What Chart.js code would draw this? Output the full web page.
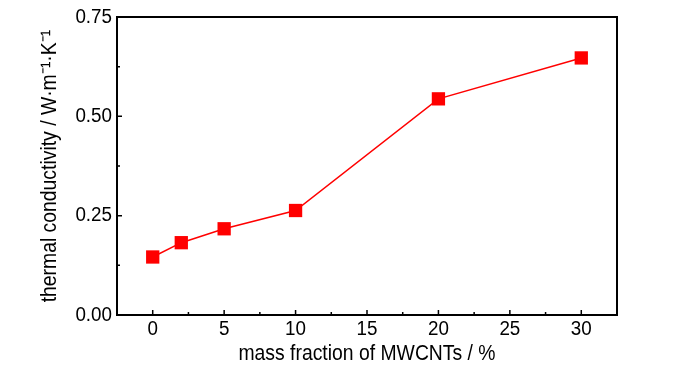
<!DOCTYPE html>
<html>
<head>
<meta charset="utf-8">
<script src="https://cdn.jsdelivr.net/npm/chart.js@4"></script>
<style>
  html, body { margin: 0; padding: 0; background: #fff; }
</style>
</head>
<body>
<canvas id="chart" width="700" height="374"></canvas>
<script>
// data
const massFraction = [0, 2, 5, 10, 20, 30];
const conductivity = [0.146, 0.182, 0.217, 0.263, 0.544, 0.647];
const xMajorTicks = [0, 5, 10, 15, 20, 25, 30];
const xMinorTicks = [2.5, 7.5, 12.5, 17.5, 22.5, 27.5];
const yMajorTicks = [0, 0.25, 0.5, 0.75];
const yMinorTicks = [0.125, 0.375, 0.625];

const FONT = "'Liberation Sans', Arial, sans-serif";
const TICK_SIZE = 20;
const TITLE_SIZE = 22;

const canvas = document.getElementById("chart");
const context = canvas.getContext("2d");

// the original uses a narrow Arial, so squeeze the text a bit sideways
const plainFillText = context.fillText;
context.fillText = function(text, x, y, maxWidth) {
  const squeeze = this.font.indexOf(TITLE_SIZE + "px") >= 0 ? 0.88 : 0.94;
  const w = this.measureText(text).width * squeeze;
  const mw = maxWidth === undefined ? w : Math.min(maxWidth, w);
  return plainFillText.call(this, text, x, y, mw);
};

// box round the plot, ticks pointing inwards
const framePlugin = {
  id: "frame",
  afterDraw(chart) {
    const ctx = chart.ctx;
    const a = chart.chartArea;
    const xs = chart.scales.x, ys = chart.scales.y;
    ctx.save();
    ctx.strokeStyle = "#000";
    ctx.lineWidth = 1.5;
    ctx.beginPath();
    xMajorTicks.forEach(v => {
      const px = xs.getPixelForValue(v);
      ctx.moveTo(px, a.bottom);
      ctx.lineTo(px, a.bottom - 5);
    });
    xMinorTicks.forEach(v => {
      const px = xs.getPixelForValue(v);
      ctx.moveTo(px, a.bottom);
      ctx.lineTo(px, a.bottom - 3);
    });
    yMajorTicks.forEach(v => {
      const py = ys.getPixelForValue(v);
      ctx.moveTo(a.left, py);
      ctx.lineTo(a.left + 5, py);
    });
    yMinorTicks.forEach(v => {
      const py = ys.getPixelForValue(v);
      ctx.moveTo(a.left, py);
      ctx.lineTo(a.left + 3, py);
    });
    ctx.stroke();
    ctx.lineWidth = 2;
    ctx.strokeRect(a.left, a.top, a.right - a.left, a.bottom - a.top);
    ctx.restore();
  }
};

new Chart(context, {
  type: "scatter",
  data: {
    datasets: [{
      data: massFraction.map((x, i) => ({ x: x, y: conductivity[i] })),
      showLine: true,
      borderColor: "#ff0000",
      backgroundColor: "#ff0000",
      borderWidth: 1.5,
      pointStyle: "rect",
      pointRadius: 9.4,
      pointHoverRadius: 9.4,
      pointBorderWidth: 0
    }]
  },
  options: {
    responsive: false,
    animation: false,
    layout: { padding: { top: 17, right: 83, left: 37, bottom: 0 } },
    plugins: { legend: { display: false }, tooltip: { enabled: false } },
    scales: {
      x: {
        type: "linear",
        min: -2.5,
        max: 32.5,
        afterBuildTicks(scale) { scale.ticks = xMajorTicks.map(v => ({ value: v })); },
        afterFit(scale) { scale.height = 59; },
        grid: { display: false, drawTicks: false },
        border: { display: false },
        ticks: { color: "#000", font: { family: FONT, size: TICK_SIZE }, padding: 2, maxRotation: 0 },
        title: {
          display: true,
          text: "mass fraction of MWCNTs / %",
          color: "#000",
          font: { family: FONT, size: TITLE_SIZE },
          padding: { top: 0, bottom: 7 }
        }
      },
      y: {
        min: 0,
        max: 0.75,
        afterBuildTicks(scale) { scale.ticks = yMajorTicks.map(v => ({ value: v })); },
        afterFit(scale) { scale.width = 80; },
        grid: { display: false, drawTicks: false },
        border: { display: false },
        ticks: {
          color: "#000",
          font: { family: FONT, size: TICK_SIZE },
          padding: 5,
          callback: v => v.toFixed(2)
        },
        title: {
          display: true,
          text: "thermal conductivity / W·m⁻¹·K⁻¹",
          color: "#000",
          font: { family: FONT, size: TITLE_SIZE },
          padding: { top: 0, bottom: 0 }
        }
      }
    }
  },
  plugins: [framePlugin]
});
</script>
</body>
</html>
